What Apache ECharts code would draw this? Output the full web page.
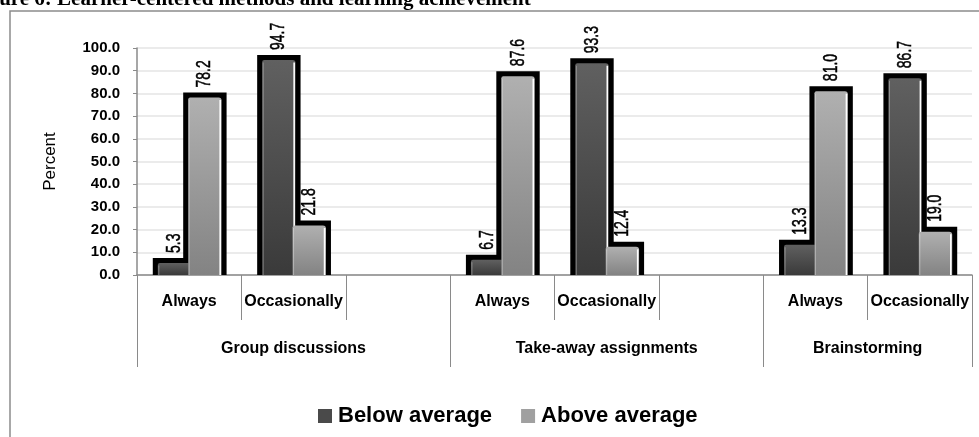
<!DOCTYPE html>
<html>
<head>
<meta charset="utf-8">
<script src="https://cdn.jsdelivr.net/npm/echarts@6/dist/echarts.min.js"></script>
<style>
  html, body { margin: 0; padding: 0; background: #fff; }
  #chart { width: 979px; height: 437px; }
</style>
</head>
<body>
<div id="chart"></div>
<script>
// Sub-categories along the x axis (blank slot separates the method groups)
const categories = ['Always', 'Occasionally', '', 'Always', 'Occasionally', '', 'Always', 'Occasionally'];
// Teaching methods and how many slots each spans
const groups = ['Group discussions', 'Take-away assignments', 'Brainstorming'];
const groupSizes = [3, 3, 2];
// Percent of learners per achievement level
const belowAverage = [5.3, 94.7, null, 6.7, 93.3, null, 13.3, 86.7];
const aboveAverage = [78.2, 21.8, null, 87.6, 12.4, null, 81.0, 19.0];
const seriesNames = ['Below average', 'Above average'];
// Value axis ticks
const yMin = 0, yMax = 100, yStep = 10;

const SANS = '"Liberation Sans", Arial, sans-serif';

// group boundaries and centres on a 0..N scale
const groupEdges = [0];
groupSizes.forEach(s => groupEdges.push(groupEdges[groupEdges.length - 1] + s));
const groupCenters = groups.map((g, i) => (groupEdges[i] + groupEdges[i + 1]) / 2);

const fills = [
  new echarts.graphic.LinearGradient(0, 0, 0, 1, [
    { offset: 0, color: '#606060' }, { offset: 1, color: '#3a3a3a' }
  ]),
  new echarts.graphic.LinearGradient(0, 0, 0, 1, [
    { offset: 0, color: '#b0b0b0' }, { offset: 1, color: '#838383' }
  ])
];

function toData(arr) {
  const out = [];
  arr.forEach((v, i) => { if (v !== null) out.push([i, v]); });
  return out;
}

function makeRender(side) {
  return function (params, api) {
    const idx = api.value(0);
    const v = api.value(1);
    const base = api.coord([idx, 0]);
    const top = api.coord([idx, v]);
    const slot = api.size([1, 0])[0];
    const w = slot * 0.32;
    const c = base[0];
    const x0 = side === 0 ? c - w + 2 : c - 1;
    const h = base[1] - top[1];
    const b = 5;
    const zb = side === 0 ? 0 : 2;
    return {
      type: 'group',
      children: [
        { type: 'rect', z2: 1 + zb, shape: { x: x0 - b, y: top[1] - b, width: w + 2 * b, height: h + b },
          style: { fill: '#000' } },
        { type: 'rect', z2: 10 + zb, shape: { x: x0, y: top[1], width: w, height: h, r: [2, 3, 0, 0] },
          style: { fill: fills[side] } },
        { type: 'rect', z2: 11 + zb, shape: { x: x0 + w - 2.2, y: top[1] + 2.5, width: 1.6, height: Math.max(h - 2.5, 0) },
          style: { fill: '#ffffff' } },
        { type: 'rect', z2: 11 + zb, shape: { x: x0 + 0.5, y: top[1] + 2.5, width: 1, height: Math.max(h - 2.5, 0) },
          style: { fill: 'rgba(255,255,255,0.35)' } },
        // value label, reading bottom-to-top, in a condensed face
        { type: 'text', z2: 20, x: x0 + w / 2, y: top[1] - 10, rotation: Math.PI / 2, scaleX: 0.7,
          style: { text: v.toFixed(1), fill: '#000', stroke: '#000', lineWidth: 0.5,
                   font: '20px ' + SANS, align: 'left', verticalAlign: 'middle' } }
      ]
    };
  };
}

const chart = echarts.init(document.getElementById('chart'), null, { renderer: 'canvas' });

chart.setOption({
  animation: false,
  backgroundColor: '#fff',
  graphic: [
    { type: 'rect', z: -10, silent: true, shape: { x: 10, y: 11, width: 1200, height: 800 },
      style: { fill: 'none', stroke: '#8c8c8c', lineWidth: 1.5 } },
    { type: 'text', left: -30, top: -11, silent: true,
      style: { text: 'Figure 6: Learner-centered methods and learning achievement',
               font: 'bold 21px "Liberation Serif", "Times New Roman", serif', fill: '#000' } }
  ],
  legend: {
    left: 313, top: 400,
    itemWidth: 14, itemHeight: 14, itemGap: 29,
    icon: 'rect',
    data: seriesNames,
    textStyle: { fontFamily: SANS, fontWeight: 'bold', fontSize: 22, color: '#000', padding: [0, 0, 0, 1] }
  },
  grid: { left: 137, right: 7, top: 48, bottom: 162 },
  xAxis: [
    {
      type: 'category',
      data: categories,
      axisLine: { show: true, lineStyle: { color: '#8a8a8a', width: 1.5 } },
      axisTick: { show: true, interval: 0, length: 45, lineStyle: { color: '#8a8a8a', width: 1 } },
      axisLabel: { interval: 0, margin: 19, color: '#000', fontFamily: SANS, fontWeight: 'bold', fontSize: 16 },
      splitLine: { show: false }
    },
    {
      type: 'value',
      position: 'bottom',
      min: 0, max: categories.length,
      axisLine: { show: false },
      splitLine: { show: false },
      axisTick: { show: true, customValues: groupEdges, length: 92, lineStyle: { color: '#8a8a8a', width: 1 } },
      axisLabel: {
        customValues: groupCenters,
        margin: 66, color: '#000', fontFamily: SANS, fontWeight: 'bold', fontSize: 16,
        formatter: function (val) {
          const i = groupCenters.findIndex(c => Math.abs(c - val) < 1e-6);
          return i >= 0 ? groups[i] : '';
        }
      }
    }
  ],
  yAxis: {
    type: 'value',
    min: yMin, max: yMax, interval: yStep,
    name: 'Percent',
    nameLocation: 'middle',
    nameRotate: 90,
    nameGap: 78,
    nameTextStyle: { fontFamily: SANS, fontSize: 17, color: '#000' },
    axisLine: { show: true, lineStyle: { color: '#8a8a8a', width: 1.5 } },
    axisTick: { show: true, length: 4, lineStyle: { color: '#8a8a8a' } },
    axisLabel: { margin: 17, color: '#000', fontFamily: SANS, fontWeight: 'bold', fontSize: 15,
                 formatter: v => v.toFixed(1) },
    splitLine: { show: true, lineStyle: { color: '#e4e4e4', width: 1.5 } }
  },
  series: [belowAverage, aboveAverage].map((arr, side) => ({
    name: seriesNames[side],
    type: 'custom',
    xAxisIndex: 0,
    yAxisIndex: 0,
    itemStyle: { color: side === 0 ? '#4a4a4a' : '#a0a0a0' },
    encode: { x: 0, y: 1 },
    data: toData(arr),
    renderItem: makeRender(side)
  }))
});
</script>
</body>
</html>
